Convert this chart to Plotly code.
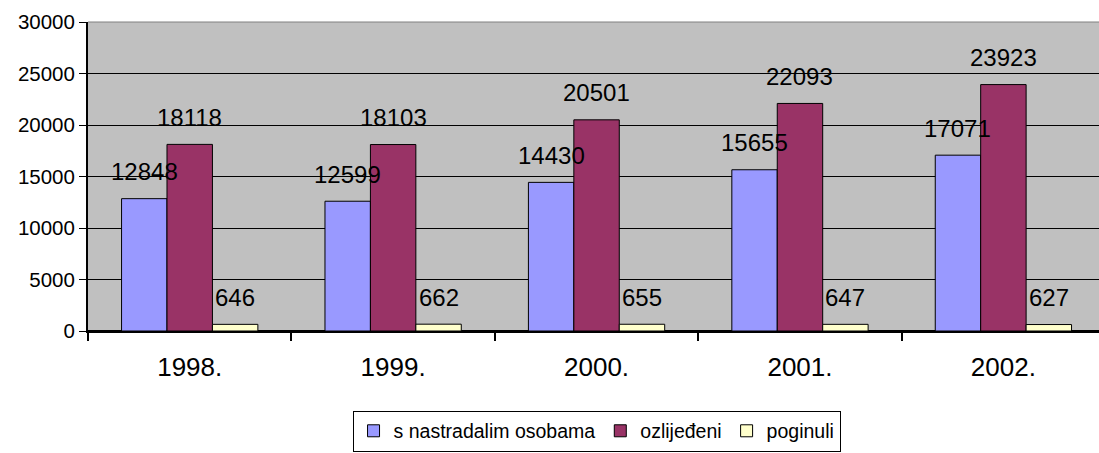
import plotly.graph_objects as go

categories = ["1998.", "1999.", "2000.", "2001.", "2002."]
s_nastradalim = [12848, 12599, 14430, 15655, 17071]
ozlijedeni = [18118, 18103, 20501, 22093, 23923]
poginuli = [646, 662, 655, 647, 627]
series_names = ["s nastradalim osobama", "ozlijeđeni", "poginuli"]
colors = ["#9999FF", "#993366", "#FFFFCC"]

FONT = "Liberation Sans, Arial, sans-serif"
W, H = 1099, 453
ML, MR, MT, MB = 88, 0, 22, 122
x_range = [-0.5, 4.47]
plot_w = W - ML - MR
cat_px = plot_w / (x_range[1] - x_range[0])
bargap = 0.33
bar_px = cat_px * (1 - bargap) / 3

fig = go.Figure()
all_series = [s_nastradalim, ozlijedeni, poginuli]
for name, vals, col in zip(series_names, all_series, colors):
    fig.add_trace(go.Bar(
        x=categories, y=vals, name=name,
        marker=dict(color=col, line=dict(color="black", width=1)),
    ))

annotations = []
for k, vals in enumerate(all_series):
    for i, v in enumerate(vals):
        annotations.append(dict(
            x=i, y=v, xref="x", yref="y", text=str(v), showarrow=False,
            xshift=(k - 1) * bar_px, yshift=27, yanchor="middle",
            font=dict(family=FONT, size=24, color="black"),
        ))

fig.update_layout(
    width=W, height=H,
    margin=dict(l=ML, r=MR, t=MT, b=MB),
    paper_bgcolor="white", plot_bgcolor="#C0C0C0",
    barmode="group", bargap=bargap, bargroupgap=0,
    font=dict(family=FONT, color="black"),
    annotations=annotations,
    legend=dict(
        orientation="h", x=0.503, xanchor="center", y=-0.324, yanchor="middle",
        bgcolor="white", bordercolor="black", borderwidth=1,
        font=dict(family=FONT, size=19.5), itemwidth=30, tracegroupgap=0,
    ),
    shapes=[dict(type="line", xref="paper", yref="paper", x0=0, x1=1, y0=1, y1=1,
                 line=dict(color="#808080", width=1))],
)
fig.update_yaxes(
    range=[0, 30000], dtick=5000, tickformat="d", showgrid=True, gridcolor="black", gridwidth=1,
    showline=True, linecolor="black", linewidth=2, ticks="outside", ticklen=7,
    tickcolor="black", tickfont=dict(family=FONT, size=20.5), zeroline=True,
    zerolinecolor="black", zerolinewidth=2, automargin=False,
)
fig.update_xaxes(
    range=x_range, tickson="boundaries", ticks="outside", ticklen=8,
    tickcolor="black", tickwidth=2, showline=True, linecolor="black", linewidth=2,
    tickfont=dict(family=FONT, size=26), ticklabelstandoff=12,
    showgrid=False, automargin=False,
)

fig.write_html(
    "out.html",
    config={"displayModeBar": False},
    post_script="document.body.style.margin='0';document.body.style.overflow='hidden';",
)
